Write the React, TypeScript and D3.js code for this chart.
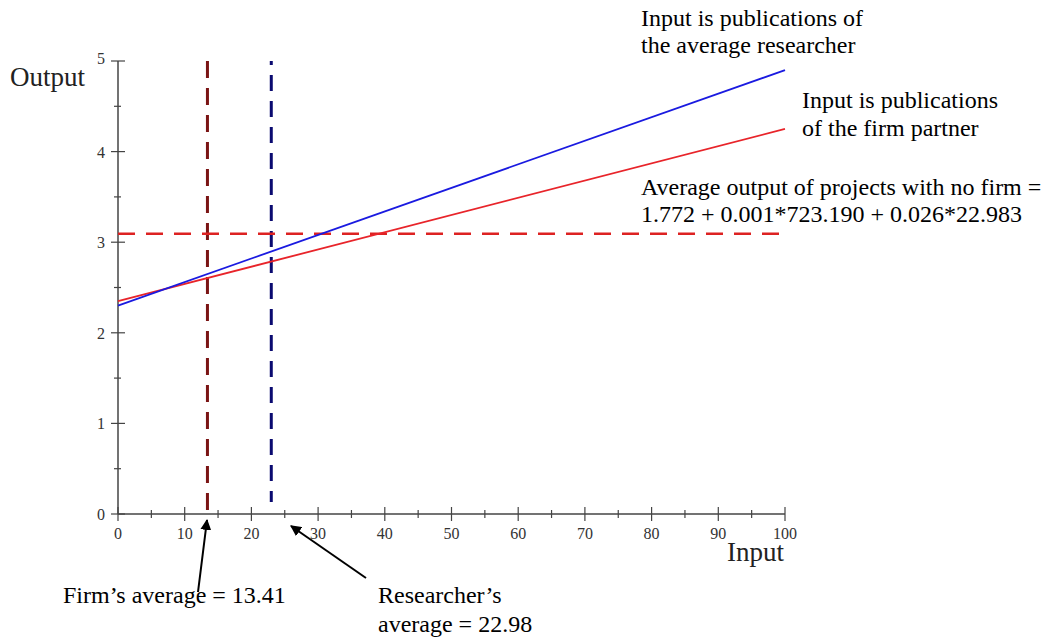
import React from "react";
import * as d3 from "d3";

const xMajorTicks = [0, 10, 20, 30, 40, 50, 60, 70, 80, 90, 100];
const xMinorTicks = [5, 15, 25, 35, 45, 55, 65, 75, 85, 95];
const yMajorTicks = [0, 1, 2, 3, 4, 5];
const yMinorTicks = [0.5, 1.5, 2.5, 3.5, 4.5];

const researcherLine = [
  { x: 0, y: 2.3 },
  { x: 100, y: 4.9 },
];
const firmLine = [
  { x: 0, y: 2.35 },
  { x: 100, y: 4.25 },
];
const noFirmAverage = 3.093;
const firmAverage = 13.41;
const researcherAverage = 22.98;

const FONT = "'Liberation Serif', 'Times New Roman', Times, serif";

export default function App() {
  const W = 1051;
  const H = 639;
  const x = d3.scaleLinear().domain([0, 100]).range([118, 785]);
  const y = d3.scaleLinear().domain([0, 5]).range([514, 61]);
  const line = d3
    .line<{ x: number; y: number }>()
    .x((d) => x(d.x))
    .y((d) => y(d.y));
  const axisColor = "#444";
  const T = (props: any) => <text fontFamily={FONT} {...props} />;

  return (
    <svg
      width={W}
      height={H}
      style={{ position: "absolute", left: 0, top: 0, background: "#fff", fontFamily: FONT }}
    >
      <defs>
        <marker
          id="arrow"
          viewBox="0 0 10 10"
          refX="9"
          refY="5"
          markerWidth="11"
          markerHeight="11"
          markerUnits="userSpaceOnUse"
          orient="auto"
        >
          <path d="M0,0 L10,5 L0,10 Z" fill="#000" />
        </marker>
      </defs>

      {/* axes */}
      <line x1={x(0)} x2={x(100)} y1={y(0)} y2={y(0)} stroke={axisColor} strokeWidth={1.5} />
      <line x1={x(0)} x2={x(0)} y1={y(0)} y2={y(5)} stroke={axisColor} strokeWidth={1.5} />
      {xMajorTicks.map((t) => (
        <g key={"xm" + t}>
          <line x1={x(t)} x2={x(t)} y1={y(0) - 7} y2={y(0) + 7} stroke={axisColor} strokeWidth={1.2} />
          <T x={x(t)} y={539} fontSize={16} textAnchor="middle" fill="#333">
            {t}
          </T>
        </g>
      ))}
      {xMinorTicks.map((t) => (
        <line key={"xn" + t} x1={x(t)} x2={x(t)} y1={y(0) - 4} y2={y(0) + 4} stroke={axisColor} strokeWidth={1.2} />
      ))}
      {yMajorTicks.map((t) => (
        <g key={"ym" + t}>
          <line x1={x(0) - 7} x2={x(0) + 7} y1={y(t)} y2={y(t)} stroke={axisColor} strokeWidth={1.2} />
          <T
            x={105}
            y={t === 5 ? y(t) + 3 : y(t) + 6}
            fontSize={16}
            textAnchor="end"
            fill="#333"
          >
            {t}
          </T>
        </g>
      ))}
      {yMinorTicks.map((t) => (
        <line key={"yn" + t} x1={x(0) - 4} x2={x(0) + 3} y1={y(t)} y2={y(t)} stroke={axisColor} strokeWidth={1.2} />
      ))}

      {/* axis titles */}
      <T x={10} y={86} fontSize={27} fill="#222">
        Output
      </T>
      <T x={727} y={561} fontSize={27} fill="#222">
        Input
      </T>

      {/* vertical dashed average lines */}
      <line
        x1={x(firmAverage)}
        x2={x(firmAverage)}
        y1={y(5)}
        y2={y(0)}
        stroke="#7a1414"
        strokeWidth={3}
        strokeDasharray="17,10"
      />
      <line
        x1={x(researcherAverage)}
        x2={x(researcherAverage)}
        y1={y(5)}
        y2={y(0) - 12}
        stroke="#0a0a70"
        strokeWidth={3}
        strokeDasharray="16,10"
        strokeDashoffset={12}
      />

      {/* horizontal dashed no-firm average */}
      <line
        x1={x(0)}
        x2={x(100)}
        y1={y(noFirmAverage)}
        y2={y(noFirmAverage)}
        stroke="#dd2222"
        strokeWidth={2.5}
        strokeDasharray="17,11"
      />

      {/* regression lines */}
      <path d={line(firmLine) ?? ""} fill="none" stroke="#e8242a" strokeWidth={1.8} />
      <path d={line(researcherLine) ?? ""} fill="none" stroke="#1a1ae0" strokeWidth={1.8} />

      {/* annotations */}
      <T x={641} y={26} fontSize={24} fill="#000">Input is publications of</T>
      <T x={641} y={53} fontSize={24} fill="#000">the average researcher</T>
      <T x={802} y={108} fontSize={24} fill="#000">Input is publications</T>
      <T x={802} y={136} fontSize={24} fill="#000">of the firm partner</T>
      <T x={641} y={195} fontSize={24} fill="#000">Average output of projects with no firm =</T>
      <T x={641} y={222} fontSize={24} fill="#000">1.772 + 0.001*723.190 + 0.026*22.983</T>
      <T x={63} y={603} fontSize={24} fill="#000">Firm’s average = 13.41</T>
      <T x={378} y={603} fontSize={24} fill="#000">Researcher’s</T>
      <T x={378} y={632} fontSize={24} fill="#000">average = 22.98</T>

      {/* arrows */}
      <line x1={198} y1={592} x2={207} y2={520} stroke="#000" strokeWidth={2} markerEnd="url(#arrow)" />
      <line x1={366} y1={578} x2={291} y2={526} stroke="#000" strokeWidth={2} markerEnd="url(#arrow)" />
    </svg>
  );
}
